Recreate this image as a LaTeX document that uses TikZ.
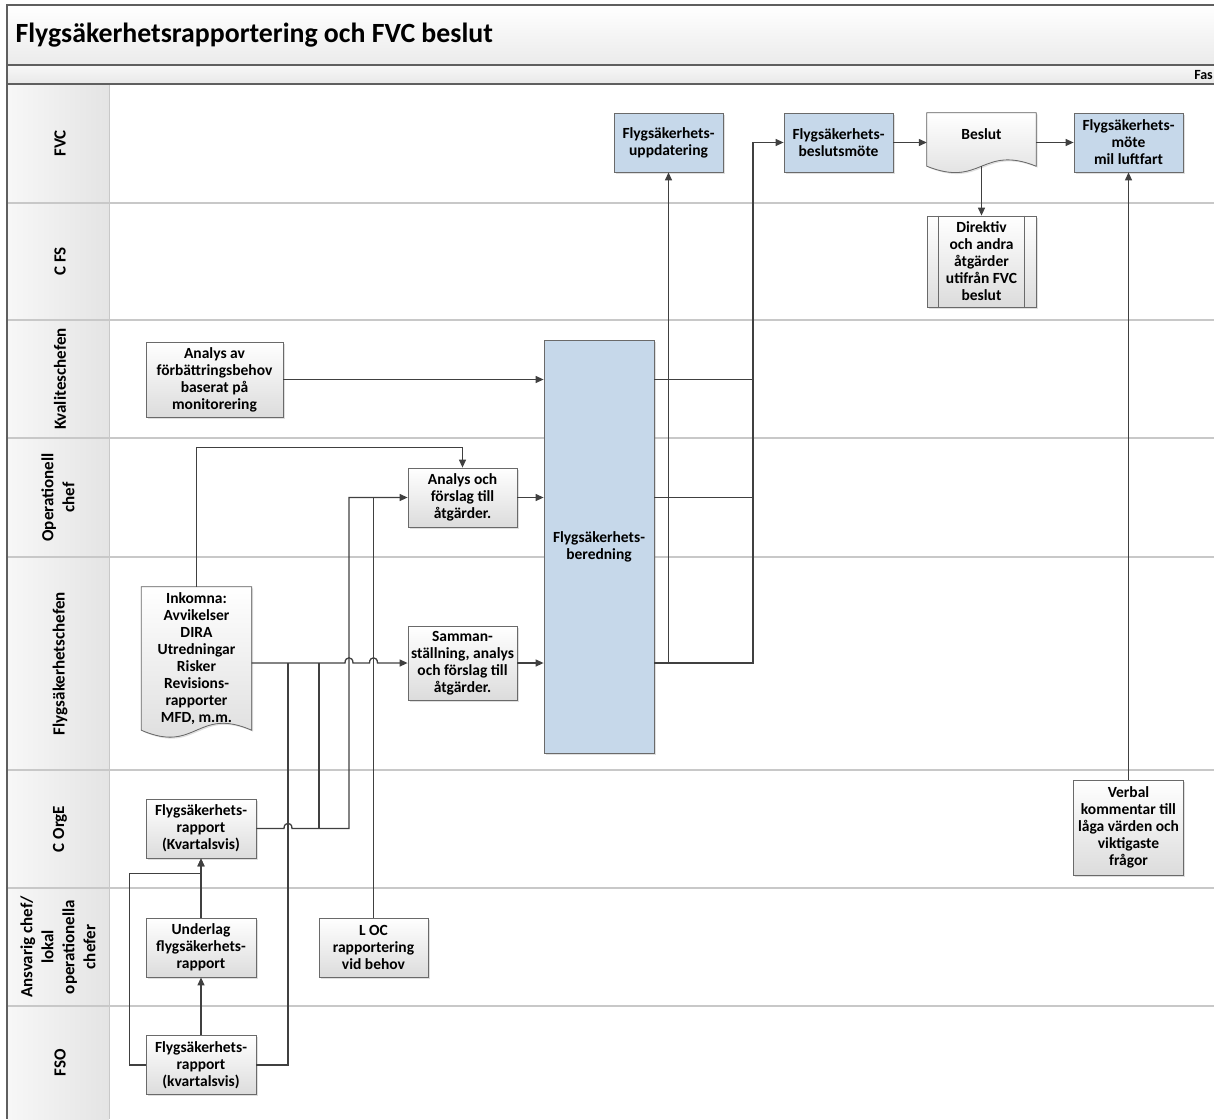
\documentclass[tikz,border=0pt]{standalone}
\usepackage{fontspec}
\setmainfont{Carlito}
\usetikzlibrary{arrows.meta,calc,shadows}

\definecolor{flowline}{HTML}{404040}
\definecolor{boxline}{HTML}{6A6A6A}
\definecolor{boxgray}{HTML}{DCDCDC}
\definecolor{boxblue}{HTML}{C6D8EA}
\definecolor{laneline}{HTML}{C8C8C8}
\definecolor{headgray}{HTML}{E4E4E4}
\definecolor{framegray}{HTML}{5F5F5F}

\pgfdeclarelayer{lanes}
\pgfdeclarelayer{shapes}
\pgfsetlayers{lanes,shapes,main}

% document outline with wavy bottom, drawn behind the node text
\newcommand{\docoutline}[2]{%
  \begin{pgfonlayer}{shapes}
  \filldraw[docshape] (#1.north west) -- (#1.north east) -- (#1.south east)
    .. controls ($(#1.south)+(0,-#2)$) and ($(#1.south)+(0,#2)$) .. (#1.south west) -- cycle;
  \end{pgfonlayer}}

\begin{document}
\begin{tikzpicture}[x=1pt, y=-1pt,
  font=\bfseries\fontsize{15.5}{17}\selectfont,
  box/.style={draw=boxline, line width=0.8pt, top color=white, bottom color=boxgray,
    align=center, inner sep=1pt,
    drop shadow={shadow xshift=1.5pt, shadow yshift=-1.5pt, opacity=0.25}},
  bluebox/.style={draw=boxline, line width=0.8pt, fill=boxblue, align=center, inner sep=1pt,
    drop shadow={shadow xshift=1.5pt, shadow yshift=-1.5pt, opacity=0.25}},
  docnode/.style={align=center, inner sep=1pt},
  docshape/.style={draw=boxline, line width=0.8pt, top color=white, bottom color=boxgray,
    drop shadow={shadow xshift=1.5pt, shadow yshift=-1.5pt, opacity=0.25}},
  flow/.style={draw=flowline, line width=1.3pt, -{Triangle[length=8pt,width=7pt]}},
  link/.style={draw=flowline, line width=1.3pt},
  lanehead/.style={rotate=90, align=center, font=\bfseries\fontsize{17}{21}\selectfont}]
\useasboundingbox (0,0) rectangle (1214,1119);

% swimlanes
\begin{pgfonlayer}{lanes}
  \shade[top color=white, bottom color=black!8] (7,5) rectangle (1214,65);
  \shade[top color=black!3, bottom color=black!9] (7,65) rectangle (1214,84);
  \shade[left color=black!3, right color=headgray] (7,84) rectangle (109,1119);
  \foreach \y in {203,320,438,557,770,888,1006}
    \draw[laneline, line width=1.3pt] (7,\y) -- (1214,\y);
  \draw[laneline, line width=1pt] (109,84) -- (109,1119);
  \draw[framegray, line width=1.2pt] (1214,5) -- (7,5) -- (7,1119);
  \draw[framegray, line width=1.2pt] (7,65) -- (1214,65) (7,84) -- (1214,84);
\end{pgfonlayer}

\node[anchor=west, font=\bfseries\fontsize{27.8}{32}\selectfont] (title) at (12,35)
  {Flygsäkerhetsrapportering och FVC beslut};
\node[anchor=east, inner sep=1pt, font=\bfseries\fontsize{14}{16}\selectfont] (fas) at (1214,75) {Fas};

\node[lanehead] (hFVC) at (60,143.5) {FVC};
\node[lanehead] (hCFS) at (60,261.5) {C FS};
\node[lanehead] (hKval) at (60,379) {Kvaliteschefen};
\node[lanehead] (hOp) at (58,497.5) {Operationell\\chef};
\node[lanehead] (hFlyg) at (60,663.5) {Flygsäkerhetschefen};
\node[lanehead] (hCOrgE) at (60,829) {C OrgE};
\node[lanehead] (hAnsv) at (58,947) {Ansvarig chef/\\lokal\\operationella\\chefer};
\node[lanehead] (hFSO) at (60,1062.5) {FSO};

% FVC
\node[bluebox, minimum width=109, minimum height=59] (uppd) at (668.5,142.5) {Flygsäkerhets-\\uppdatering};
\node[bluebox, minimum width=109, minimum height=59] (beslmote) at (838.5,142.5) {Flygsäkerhets-\\beslutsmöte};
\node[docnode, minimum width=109, minimum height=53, text depth=10pt] (beslut) at (981.5,139.5) {Beslut};
\node[bluebox, minimum width=109, minimum height=59] (mote) at (1128.5,142.5) {Flygsäkerhets-\\möte\\mil luftfart};
\docoutline{beslut}{22}

% CFS
\node[box, minimum width=109, minimum height=91] (direktiv) at (981.5,261.5)
  {Direktiv\\och andra\\åtgärder\\utifrån FVC\\beslut};
\draw[boxline, line width=0.8pt]
  ([xshift=12pt]direktiv.north west) -- ([xshift=12pt]direktiv.south west)
  ([xshift=-12pt]direktiv.north east) -- ([xshift=-12pt]direktiv.south east);

% Kvaliteschefen / Operationell chef / Flygsakerhetschefen
\node[box, minimum width=137, minimum height=75] (behov) at (214.5,379.5)
  {Analys av\\förbättringsbehov\\baserat på\\monitorering};
\node[bluebox, minimum width=110, minimum height=413] (bered) at (599,546.5) {Flygsäkerhets-\\beredning};
\node[box, minimum width=109, minimum height=59] (analys) at (462.5,497.5) {Analys och\\förslag till\\åtgärder.};
\node[docnode, minimum width=110, minimum height=143] (inkomna) at (196.5,658.5)
  {Inkomna:\\Avvikelser\\DIRA\\Utredningar\\Risker\\Revisions-\\rapporter\\MFD, m.m.};
\docoutline{inkomna}{24}
\node[box, minimum width=109, minimum height=74] (samman) at (462.5,663)
  {Samman-\\ställning, analys\\och förslag till\\åtgärder.};

% C OrgE / Ansvarig chef / FSO
\node[box, minimum width=110, minimum height=59] (corge) at (201,828.5) {Flygsäkerhets-\\rapport\\(Kvartalsvis)};
\node[box, minimum width=110, minimum height=59] (underlag) at (201,947.5) {Underlag\\flygsäkerhets-\\rapport};
\node[box, minimum width=110, minimum height=59] (fso) at (201,1065) {Flygsäkerhets-\\rapport\\(kvartalsvis)};
\node[box, minimum width=109, minimum height=59] (loc) at (373.5,947.5) {L OC\\rapportering\\vid behov};
\node[box, minimum width=110, minimum height=95] (verbal) at (1128.5,827.5)
  {Verbal\\kommentar till\\låga värden och\\viktigaste\\frågor};

% into Flygsakerhetsberedning
\draw[flow] (behov.east) -- (behov.east -| bered.west);
\draw[flow] (analys.east) -- (analys.east -| bered.west);
\draw[flow] (samman.east) -- (samman.east -| bered.west);

% out of Flygsakerhetsberedning
\coordinate (ut) at (753,0);
\draw[link] (behov.east -| bered.east) -- (behov.east -| ut);
\draw[link] (analys.east -| bered.east) -- (analys.east -| ut);
\draw[flow] (samman.east -| bered.east) -| (uppd.south);
\draw[flow] (samman.east -| bered.east) -- (samman.east -| ut) |- (beslmote.west);

% FVC row
\draw[flow] (beslmote.east) -- (beslmote.east -| beslut.west);
\draw[flow] (mote.west -| beslut.east) -- (mote.west);
\draw[flow] (beslut.south) -- (direktiv.north);
\draw[flow] (verbal.north) -- (mote.south);

% reports up to analysis
\coordinate (busA) at (288,0);
\coordinate (busB) at (319,0);
\coordinate (busC) at (349,0);
\coordinate (jA) at (busA |- corge.east);
\coordinate (jC) at (busC |- samman.west);
\coordinate (jD) at (loc.north |- samman.west);

\draw[flow] (inkomna.north) |- ($(analys.north)+(0,-20)$) -- (analys.north);
\draw[flow] (inkomna.east |- samman.west) -- ($(jC)+(-4,0)$) .. controls +(0,-7) and +(0,-7) .. ($(jC)+(4,0)$)
  -- ($(jD)+(-4,0)$) .. controls +(0,-7) and +(0,-7) .. ($(jD)+(4,0)$) -- (samman.west);
\draw[flow] (corge.east) -- ($(jA)+(-4,0)$) .. controls +(0,-7) and +(0,-7) .. ($(jA)+(4,0)$)
  -- (busC |- corge.east) |- (analys.west);
\draw[link] (busB |- corge.east) -- (busB |- samman.west);
\draw[link] (fso.east) -| (busA |- samman.west);
\draw[link] (loc.north) -- (loc.north |- analys.west);

\draw[flow] (fso.north) -- (underlag.south);
\draw[flow] (underlag.north) -- (corge.south);
\draw[flow] (fso.west) -- ++(-16,0) |- ($(corge.south)+(0,15)$) -- (corge.south);
\end{tikzpicture}
\end{document}
